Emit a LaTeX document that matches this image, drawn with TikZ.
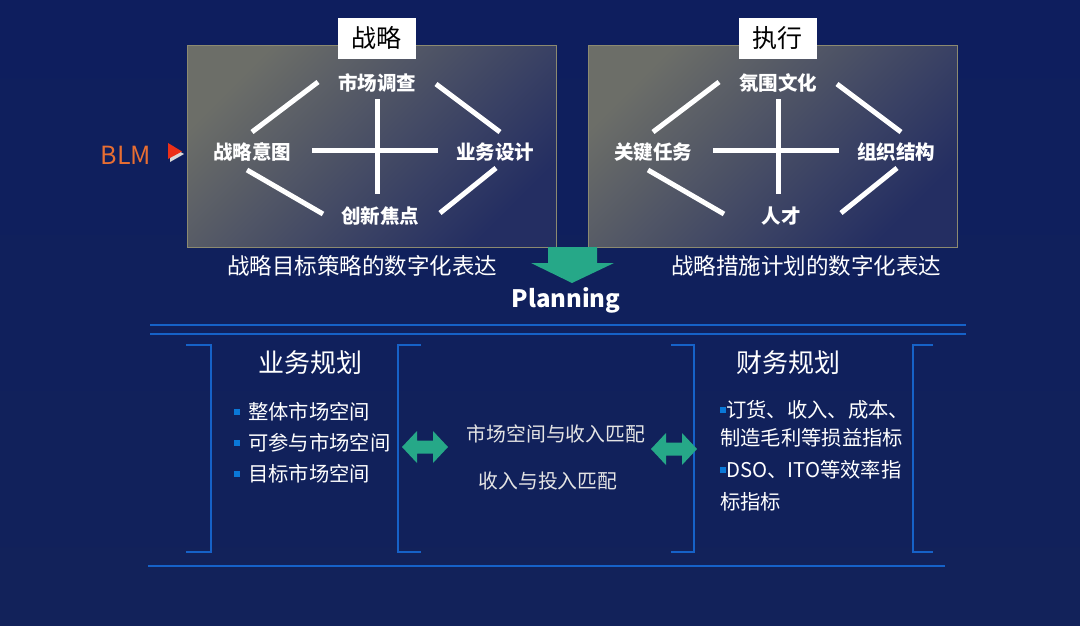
\documentclass[tikz,border=0pt]{standalone}
\usepackage{fontspec}
\setmainfont{Noto Sans CJK SC}
\usetikzlibrary{positioning}
\definecolor{bgtop}{RGB}{14,30,94}
\definecolor{bgmid}{RGB}{10,26,84}
\definecolor{bgbot}{RGB}{18,34,90}
\definecolor{paneltl}{RGB}{108,110,104}
\definecolor{panelbr}{RGB}{36,46,98}
\definecolor{panelline}{RGB}{140,138,112}
\definecolor{blmorange}{RGB}{232,110,50}
\definecolor{blmred}{RGB}{236,48,24}
\definecolor{flowgreen}{RGB}{38,168,136}
\definecolor{ruleblue}{RGB}{22,98,200}
\definecolor{bulletblue}{RGB}{10,120,215}
\tikzstyle{panel}=[draw=panelline,line width=0.8pt,left color=paneltl,right color=panelbr,shading angle=45,minimum width=369,minimum height=202,inner sep=0pt]
\tikzstyle{tag}=[fill=white,text=black,font=\fontsize{25}{25}\selectfont,minimum width=78,minimum height=41,inner sep=0pt]
\tikzstyle{item}=[text=white,font=\bfseries\fontsize{19.5}{19.5}\selectfont,inner sep=1pt]
\tikzstyle{bar}=[draw=white,line width=5pt]
\tikzstyle{caption}=[text=white,font=\fontsize{22.5}{22.5}\selectfont]
\tikzstyle{heading}=[text=white,font=\fontsize{26}{26}\selectfont]
\tikzstyle{entry}=[text=white,font=\fontsize{20.3}{20.3}\selectfont,anchor=west,inner sep=0pt]
\tikzstyle{match}=[text=black!10,font=\fontsize{19.8}{19.8}\selectfont]
\tikzstyle{rule}=[draw=ruleblue,line width=2.6pt]
\tikzstyle{bracket}=[draw=ruleblue,line width=2.6pt]
\tikzstyle{flow}=[fill=flowgreen]
\newcommand{\sqbullet}{\textcolor{bulletblue}{\raisebox{5pt}{\rule{6pt}{6pt}}}}
\tikzset{dblarrow/.pic={
	\fill[flow] (-23,0) -- (-8,-16) -- (-8,-6.5) -- (8,-6.5) -- (8,-16) -- (23,0)
	-- (8,16) -- (8,6.5) -- (-8,6.5) -- (-8,16) -- cycle;}}

\begin{document}
\begin{tikzpicture}[x=1pt,y=-1pt]
	\useasboundingbox (0,0) rectangle (1080,625);
	\fill[top color=bgtop,middle color=bgmid,bottom color=bgbot] (0,0) rectangle (1080,625);
	
	% two panels: strategy and execution
	\node[panel] (strat) at (371.5,146) {};
	\node[panel] (exec) at (772.5,146) {};
	\node[tag] (stag) at (376.7,38.3) {战略};
	\node[tag] (etag) at (777.8,38.3) {执行};
	
	\foreach \dx/\p/\top/\lft/\rgt/\bot in {0/s/市场调查/战略意图/业务设计/创新焦点,401/e/氛围文化/关键任务/组织结构/人才}
	{
	\begin{scope}[xshift=\dx]
	\draw[bar] (252,132) -- (318,82);
	\draw[bar] (436,84) -- (500,132);
	\draw[bar] (247,170) -- (323,214);
	\draw[bar] (440,213) -- (496,168);
	\draw[bar] (312,150) -- (438,150);
	\draw[bar] (377.5,99) -- (377.5,194);
	\node[item] (\p top) at (377,83) {\top};
	\node[item] (\p left) at (252,152) {\lft};
	\node[item] (\p right) at (495,152) {\rgt};
	\node[item] (\p bot) at (380,216) {\bot};
	\end{scope}
	}
	
	% BLM marker
	\node[text=blmorange,font=\fontsize{25}{25}\selectfont] (blm) at (126,155) {BLM};
	\fill[black!15] (170,146) -- (184,154) -- (170,162) -- cycle;
	\fill[blmred] (168,143) -- (182,151.5) -- (168,159) -- cycle;
	
	\node[caption] (capL) at (362,266) {战略目标策略的数字化表达};
	\node[caption] (capR) at (806,266) {战略措施计划的数字化表达};
	
	\fill[flow] (548,247) -- (597,247) -- (597,263) -- (614,263) -- (572,283)
	-- (531,263) -- (548,263) -- cycle;
	\node[text=white,font=\bfseries\fontsize{24}{24}\selectfont] (plan) at (566,300) {Planning};
	
	\draw[rule] (150,325) -- (966,325);
	\draw[rule] (150,334) -- (966,334);
	\draw[rule] (148,566) -- (945,566);
	
	\draw[bracket] (186,345) -- (211,345) -- (211,552) -- (186,552);
	\draw[bracket] (421,345) -- (398,345) -- (398,552) -- (421,552);
	\draw[bracket] (671,345) -- (694,345) -- (694,552) -- (671,552);
	\draw[bracket] (933,345) -- (913,345) -- (913,552) -- (933,552);
	
	% business planning
	\node[heading] (biz) at (310,363) {业务规划};
	\foreach \y/\name/\txt in {412/b1/整体市场空间,443/b2/可参与市场空间,474/b3/目标市场空间}
	{
	\fill[bulletblue] (234,\y-3) rectangle (240,\y+3);
	\node[entry] (\name) at (248,\y) {\txt};
	}
	
	\pic at (425,447) {dblarrow};
	\pic at (674,449) {dblarrow};
	\node[match] (m1) at (556,434) {市场空间与收入匹配};
	\node[match] (m2) at (548,481) {收入与投入匹配};
	
	% finance planning
	\node[heading] (fin) at (788,363) {财务规划};
	\node[entry] (f1) at (720,410) {\sqbullet 订货、收入、成本、};
	\node[entry] (f2) at (720,438) {制造毛利等损益指标};
	\node[entry] (f3) at (720,470) {\sqbullet DSO、ITO等效率指};
	\node[entry] (f4) at (720,502) {标指标};
\end{tikzpicture}
\end{document}
